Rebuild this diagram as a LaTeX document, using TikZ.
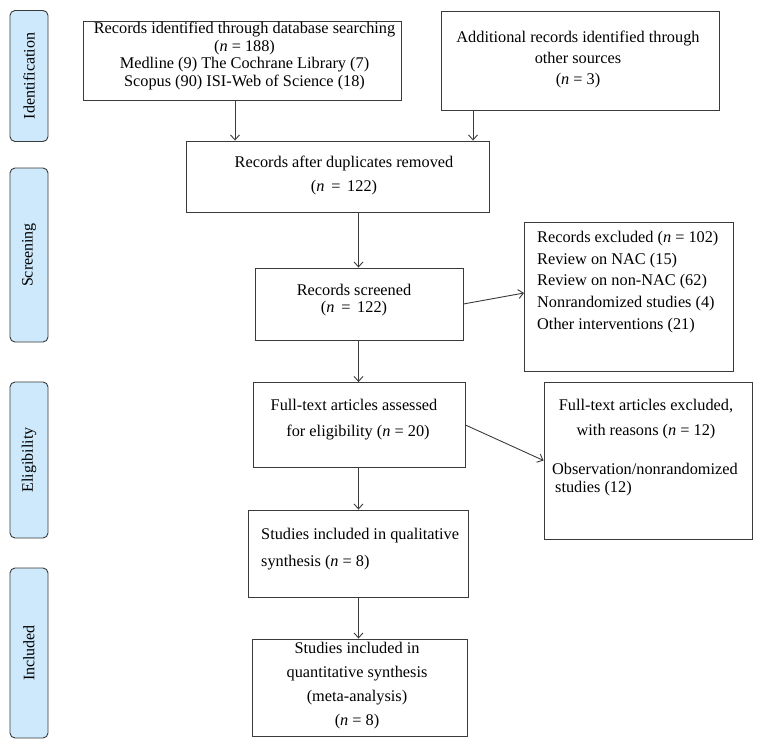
\documentclass[tikz,border=0pt]{standalone}
\usepackage{fontspec}
\setmainfont{Liberation Serif}
\usetikzlibrary{arrows.meta,calc}
\definecolor{sidefill}{HTML}{CDE9FB}
\definecolor{linec}{HTML}{3A3A3A}
\tikzset{
  boxn/.style={draw=linec, line width=0.9pt, inner sep=0pt},
  txt/.style={inner sep=0pt, text=black},
  side/.style={draw=linec, line width=0.9pt, fill=sidefill, rounded corners=5pt, minimum width=38pt, inner sep=0pt},
  sidetxt/.style={rotate=90, font=\fontsize{16}{18}\selectfont},
  arr/.style={draw=linec, line width=0.9pt, -{Straight Barb[length=5pt,width=9pt]}},
}
\newcommand{\fs}[1]{\fontsize{16.3}{#1}\selectfont}
\begin{document}
\begin{tikzpicture}[x=1pt,y=-1pt]
\useasboundingbox (0,0) rectangle (768,749);
% side labels
\node[side, minimum height=131pt] (s1) at (29,76) {};
\node[sidetxt] (s1t) at (s1.center) {Identification};
\node[side, minimum height=174pt] (s2) at (29,255) {};
\node[sidetxt] (s2t) at (s2.center) {Screening};
\node[side, minimum height=156pt] (s3) at (29,460) {};
\node[sidetxt] (s3t) at (s3.center) {Eligibility};
\node[side, minimum height=170pt] (s4) at (29,653) {};
\node[sidetxt] (s4t) at (s4.center) {Included};
% boxes
\node[boxn, minimum width=318pt, minimum height=79pt] (b1) at (242,60.5) {};
\node[txt, align=center, font=\fs{17.5}] (b1t) at (244.5,56) {Records identified through database searching\\(\textit{n} = 188)\\Medline (9) The Cochrane Library (7)\\Scopus (90) ISI-Web of Science (18)};
\node[boxn, minimum width=278pt, minimum height=99pt] (b2) at (580,60.5) {};
\node[txt, align=center, font=\fs{21}] (b2t) at (578,59) {Additional records identified through\\other sources\\(\textit{n} = 3)};
\node[boxn, minimum width=303pt, minimum height=71pt] (b3) at (337.5,176.5) {};
\node[txt, align=center, font=\fs{24}] (b3t) at (344,175) {Records after duplicates removed\\(\textit{n}\ \,=\ \,122)};
\node[boxn, minimum width=208pt, minimum height=72pt] (b4) at (359,304) {};
\node[txt, align=center, font=\fs{16.5}] (b4t) at (354,300) {Records screened\\(\textit{n}\ \,=\ \,122)};
\node[boxn, minimum width=209pt, minimum height=149pt] (b5) at (628.5,296.5) {};
\node[txt, align=left, anchor=west, font=\fs{21.7}] (b5t) at (537,282) {Records excluded (\textit{n} = 102)\\Review on NAC (15)\\Review on non-NAC (62)\\Nonrandomized studies (4)\\Other interventions (21)};
\node[boxn, minimum width=212pt, minimum height=85pt] (b6) at (359,425) {};
\node[txt, align=center, font=\fs{26}] (b6t) at (354,419.5) {Full-text articles assessed\\\hspace*{8pt}for eligibility (\textit{n} = 20)};
\node[boxn, minimum width=208pt, minimum height=157pt] (b7) at (648,460.5) {};
\node[txt, align=center, font=\fs{25}] (b7t) at (646,419.5) {Full-text articles excluded,\\with reasons (\textit{n} = 12)};
\node[txt, align=left, anchor=west, font=\fs{18}] (b7u) at (552,480) {Observation/nonrandomized\\\hspace*{3pt}studies (12)};
\node[boxn, minimum width=220pt, minimum height=87pt] (b8) at (358,553.5) {};
\node[txt, align=left, anchor=west, font=\fs{27.5}] (b8t) at (261,549) {Studies included in qualitative\\synthesis (\textit{n} = 8)};
\node[boxn, minimum width=215pt, minimum height=97pt] (b9) at (359.5,687.5) {};
\node[txt, align=center, font=\fs{24}] (b9t) at (357,686) {Studies included in\\quantitative synthesis\\(meta-analysis)\\(\textit{n} = 8)};
% connectors
\coordinate (xa) at (235,0);
\coordinate (xb) at (473,0);
\coordinate (xc) at (358.5,0);
\draw[arr] (b1.south -| xa) -- (b3.north -| xa);
\draw[arr] (b2.south -| xb) -- (b3.north -| xb);
\draw[arr] (b3.south -| xc) -- (b4.north -| xc);
\coordinate (p5) at (524,293);
\draw[arr] (b4.east) -- (p5);
\draw[arr] (b4.south -| xc) -- (b6.north -| xc);
\draw[arr] (b6.east) -- (b7.west);
\draw[arr] (b6.south -| xc) -- (b8.north -| xc);
\draw[arr] (b8.south -| xc) -- (b9.north -| xc);
\end{tikzpicture}
\end{document}
